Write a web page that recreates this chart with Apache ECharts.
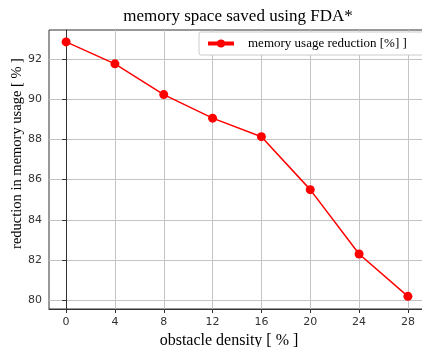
<!DOCTYPE html>
<html>
<head>
<meta charset="utf-8">
<script src="https://cdn.jsdelivr.net/npm/echarts@6/dist/echarts.min.js"></script>
<style>
  html, body { margin: 0; padding: 0; background: #fff; }
  #chart { width: 422px; height: 347px; }
</style>
</head>
<body>
<div id="chart"></div>
<script>
// obstacle density [%] and memory reduction [%]
var density = [0, 4, 8, 12, 16, 20, 24, 28];
var reduction = [92.84, 91.75, 90.22, 89.05, 88.13, 85.5, 82.3, 80.2];
var xTicks = [0, 4, 8, 12, 16, 20, 24, 28];
var yTicks = [80, 82, 84, 86, 88, 90, 92];

var serif = '"Liberation Serif", "DejaVu Serif", serif';
var sans = '"DejaVu Sans", sans-serif';

var myChart = echarts.init(document.getElementById('chart'));
var option = {
  animation: false,
  backgroundColor: '#fff',
  title: {
    text: 'memory space saved using FDA*',
    left: 233, top: 3, textAlign: 'center',
    textStyle: { fontFamily: serif, fontSize: 17, fontWeight: 'normal', color: '#000' }
  },
  legend: {
    left: 199, top: 32,
    padding: [5, 60, 5, 7],
    backgroundColor: '#fff',
    borderColor: '#ccc', borderWidth: 1, borderRadius: 2,
    itemWidth: 26, itemHeight: 10,
    lineStyle: { width: 4 },
    textStyle: { fontFamily: serif, fontSize: 13, color: '#000', padding: [0, 0, 0, 9] },
    data: ['memory usage reduction [%] ]']
  },
  grid: {
    left: 49, top: 30, width: 376, height: 279,
    outerBoundsMode: 'none', containLabel: false,
    show: true, borderColor: '#333', borderWidth: 1
  },
  xAxis: {
    type: 'value', min: -1.4, max: 29.4,
    name: 'obstacle density [ % ]', nameLocation: 'middle', nameGap: 24,
    nameTextStyle: { fontFamily: serif, fontSize: 16, color: '#000', padding: [0, 16, 0, 0] },
    axisLine: { lineStyle: { color: '#333' } },
    axisTick: { customValues: xTicks, length: 4, lineStyle: { color: '#333' } },
    axisLabel: { customValues: xTicks, margin: 8, fontFamily: sans, fontSize: 11, color: '#333' },
    splitLine: { show: true, lineStyle: { color: '#c4c4c4', width: 1 } }
  },
  yAxis: {
    type: 'value', min: 79.57, max: 93.43,
    name: 'reduction in memory usage [ % ]', nameLocation: 'middle', nameGap: 24,
    nameMoveOverlap: false,
    nameTextStyle: { fontFamily: serif, fontSize: 14.5, color: '#000', padding: [0, 0, 0, 32] },
    axisLine: { show: true, lineStyle: { color: '#333' } },
    axisTick: { show: true, customValues: yTicks, length: 4, lineStyle: { color: '#333' } },
    axisLabel: { customValues: yTicks, margin: 7, fontFamily: sans, fontSize: 11, color: '#333' },
    splitLine: { show: true, lineStyle: { color: '#c4c4c4', width: 1 } }
  },
  series: [{
    name: 'memory usage reduction [%] ]',
    type: 'line',
    data: density.map(function (d, i) { return [d, reduction[i]]; }),
    symbol: 'circle', symbolSize: 9,
    lineStyle: { color: '#ff0000', width: 1.5 },
    itemStyle: { color: '#ff0000' }
  }]
};
myChart.setOption(option);
</script>
</body>
</html>
